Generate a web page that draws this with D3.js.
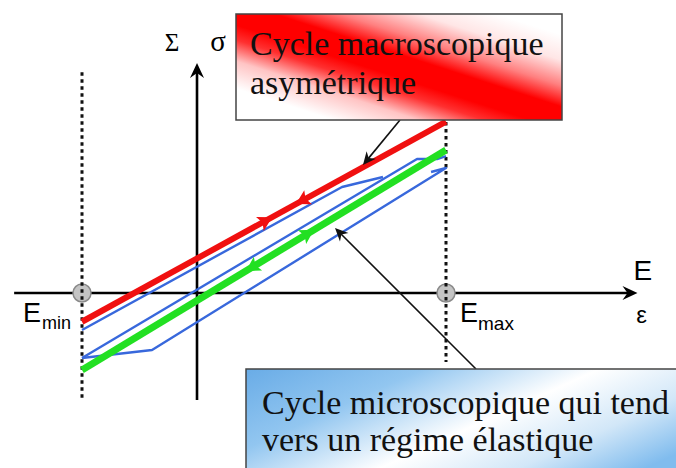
<!DOCTYPE html>
<html><head><meta charset="utf-8">
<script src="https://cdn.jsdelivr.net/npm/d3@7"></script>
<style>html,body{margin:0;padding:0;background:#fff;} svg{display:block}</style>
</head><body>
<svg id="c" width="676" height="468"></svg>
<script>
// ---- data (strain E / stress Σ in arbitrary units) ----
const Emin = -1.0, Emax = 2.165;
const xAxisExtent = [-1.59, 3.83];
const yAxisExtent = [-0.93, 2.0];
const leftGuide = [-0.93, 1.92];
const rightGuide = [-0.6, 1.487];
const redCycle = [[-1.0, -0.25], [2.165, 1.491]];
const greenCycle = [[-1.0, -0.67], [2.165, 1.243]];
const blueLoop1 = [[-1.0, -0.322], [1.261, 0.922], [1.617, 1.009]];
const blueLoop2 = [[-1.0, -0.565], [1.913, 1.165], [2.087, 1.165], [2.165, 1.191]];
const blueLoop3 = [[-1.0, -0.565], [-0.391, -0.496], [2.165, 1.087], [2.035, 1.052]];
const redArrows = [[0.60, 1], [0.913, -1]];
const greenArrows = [[0.965, 1], [0.478, -1]];
const macroNote = {lines: ["Cycle macroscopique", "asymétrique"], from: [1.765, 1.504], to: [1.443, 1.113]};
const microNote = {lines: ["Cycle microscopique qui tend", "vers un régime élastique"], from: [2.426, -0.661], to: [1.20, 0.565]};

const svg = d3.select("#c");
const x = d3.scaleLinear().domain([Emin, Emax]).range([82, 446]);
const y = d3.scaleLinear().domain([-1, 2]).range([408, 63]);
const line = d3.line().x(d => x(d[0])).y(d => y(d[1]));

const defs = svg.append("defs");
// red box gradient: isolines parallel to the box diagonal (236,14)-(562,120)
const rg = defs.append("linearGradient").attr("id", "redg").attr("gradientUnits", "userSpaceOnUse")
  .attr("x1", 368).attr("y1", 163).attr("x2", 430).attr("y2", -29);
[[0, "#ffffff"], [0.15, "#ffffff"], [0.28, "#ffc4c4"], [0.38, "#ff3030"], [0.45, "#ff0000"], [0.56, "#ff0000"], [0.66, "#ff8080"], [0.78, "#ffe6e6"], [0.9, "#ffffff"], [1, "#ffffff"]]
  .forEach(s => rg.append("stop").attr("offset", s[0]).attr("stop-color", s[1]));
const bg = defs.append("linearGradient").attr("id", "blueg").attr("gradientUnits", "userSpaceOnUse")
  .attr("x1", 428).attr("y1", 281).attr("x2", 535).attr("y2", 518);
[[0, "#66aae6"], [0.3, "#92c6f0"], [0.58, "#ffffff"], [0.8, "#d2e7f8"], [1, "#80bcee"]]
  .forEach(s => bg.append("stop").attr("offset", s[0]).attr("stop-color", s[1]));

// axes
const axisHead = (tx, ty, ang) => {
  svg.append("path").attr("d", "M0,0 L-15,-7 L-10,0 L-15,7 Z").attr("fill", "#000")
    .attr("transform", `translate(${tx},${ty}) rotate(${ang})`);
};
svg.append("line").attr("x1", x(xAxisExtent[0])).attr("x2", x(xAxisExtent[1]) - 8)
  .attr("y1", y(0)).attr("y2", y(0)).attr("stroke", "#000").attr("stroke-width", 2.6);
axisHead(x(xAxisExtent[1]), y(0), 0);
svg.append("line").attr("x1", x(0)).attr("x2", x(0))
  .attr("y1", y(yAxisExtent[0])).attr("y2", y(yAxisExtent[1]) + 8).attr("stroke", "#000").attr("stroke-width", 2.6);
axisHead(x(0), y(yAxisExtent[1]), -90);

// circles at Emin / Emax
[Emin, Emax].forEach(e => {
  svg.append("circle").attr("cx", x(e)).attr("cy", y(0)).attr("r", 9)
    .attr("fill", "#c4c4c4").attr("stroke", "#8a8a8a").attr("stroke-width", 1.5);
});
// dotted guides
[[Emin, leftGuide], [Emax, rightGuide]].forEach(([e, r]) => {
  svg.append("line").attr("x1", x(e)).attr("x2", x(e)).attr("y1", y(r[1])).attr("y2", y(r[0]))
    .attr("stroke", "#111").attr("stroke-width", 3).attr("stroke-dasharray", "3.5,3.5");
});

// cycles
[blueLoop1, blueLoop2, blueLoop3].forEach(d => {
  svg.append("path").attr("d", line(d)).attr("fill", "none").attr("stroke", "#3868dc")
    .attr("stroke-width", 2.4).attr("stroke-linejoin", "round");
});
svg.append("path").attr("d", line(greenCycle)).attr("fill", "none").attr("stroke", "#22e022").attr("stroke-width", 7);
svg.append("path").attr("d", line(redCycle)).attr("fill", "none").attr("stroke", "#f01010").attr("stroke-width", 6);

function lineArrows(cycle, arr, color) {
  const [p0, p1] = cycle;
  const ang = Math.atan2(y(p1[1]) - y(p0[1]), x(p1[0]) - x(p0[0])) * 180 / Math.PI;
  arr.forEach(([ex, dir]) => {
    const t = (ex - p0[0]) / (p1[0] - p0[0]);
    const ey = p0[1] + t * (p1[1] - p0[1]);
    svg.append("path").attr("d", "M7,0 L-7,-8 L-4,0 L-7,8 Z").attr("fill", color)
      .attr("transform", `translate(${x(ex)},${y(ey)}) rotate(${dir > 0 ? ang : ang + 180})`);
  });
}
lineArrows(redCycle, redArrows, "#f01010");
lineArrows(greenCycle, greenArrows, "#22e022");

// labels
const serif = "Liberation Serif, Times New Roman, serif";
const sans = "Liberation Sans, Arial, sans-serif";
svg.append("text").attr("x", x(0) - 25).attr("y", y(2) - 12).attr("text-anchor", "middle")
  .attr("font-family", serif).attr("font-size", 25).text("Σ");
svg.append("text").attr("x", x(0) + 21).attr("y", y(2) - 12).attr("text-anchor", "middle")
  .attr("font-family", serif).attr("font-size", 29).text("σ");
svg.append("text").attr("x", x(xAxisExtent[1]) - 4).attr("y", y(0) - 13)
  .attr("font-family", sans).attr("font-size", 28).text("E");
svg.append("text").attr("x", x(xAxisExtent[1]) + 4).attr("y", y(0) + 30).attr("text-anchor", "middle")
  .attr("font-family", sans).attr("font-size", 24).text("ε");
svg.append("text").attr("x", x(Emin) - 59).attr("y", y(0) + 29)
  .attr("font-family", sans).attr("font-size", 27).text("E");
svg.append("text").attr("x", x(Emin) - 40).attr("y", y(0) + 36)
  .attr("font-family", sans).attr("font-size", 18).text("min");
svg.append("text").attr("x", x(Emax) + 14).attr("y", y(0) + 29)
  .attr("font-family", sans).attr("font-size", 27).text("E");
svg.append("text").attr("x", x(Emax) + 32).attr("y", y(0) + 37)
  .attr("font-family", sans).attr("font-size", 19).text("max");

// annotation arrows
function pointer(note) {
  const x1 = x(note.from[0]), y1 = y(note.from[1]), x2 = x(note.to[0]), y2 = y(note.to[1]);
  const a = Math.atan2(y2 - y1, x2 - x1);
  svg.append("line").attr("x1", x1).attr("y1", y1).attr("x2", x2 - 6 * Math.cos(a))
    .attr("y2", y2 - 6 * Math.sin(a)).attr("stroke", "#111").attr("stroke-width", 1.6);
  svg.append("path").attr("d", "M0,0 L-13,-6 L-9,0 L-13,6 Z").attr("fill", "#111")
    .attr("transform", `translate(${x2},${y2}) rotate(${a * 180 / Math.PI})`);
}
pointer(macroNote);
pointer(microNote);

// boxes
svg.append("rect").attr("x", 236).attr("y", 14).attr("width", 326).attr("height", 106)
  .attr("fill", "url(#redg)").attr("stroke", "#444").attr("stroke-width", 1.5);
macroNote.lines.forEach((t, i) => svg.append("text").attr("x", 250).attr("y", 55 + i * 39)
  .attr("font-family", serif).attr("font-size", 34).attr("fill", "#111").text(t));
svg.append("rect").attr("x", 246).attr("y", 369).attr("width", 450).attr("height", 120)
  .attr("fill", "url(#blueg)").attr("stroke", "#444").attr("stroke-width", 1.5);
microNote.lines.forEach((t, i) => svg.append("text").attr("x", 262).attr("y", 414 + i * 37)
  .attr("font-family", serif).attr("font-size", 34).attr("fill", "#111").text(t));
</script>
</body></html>
